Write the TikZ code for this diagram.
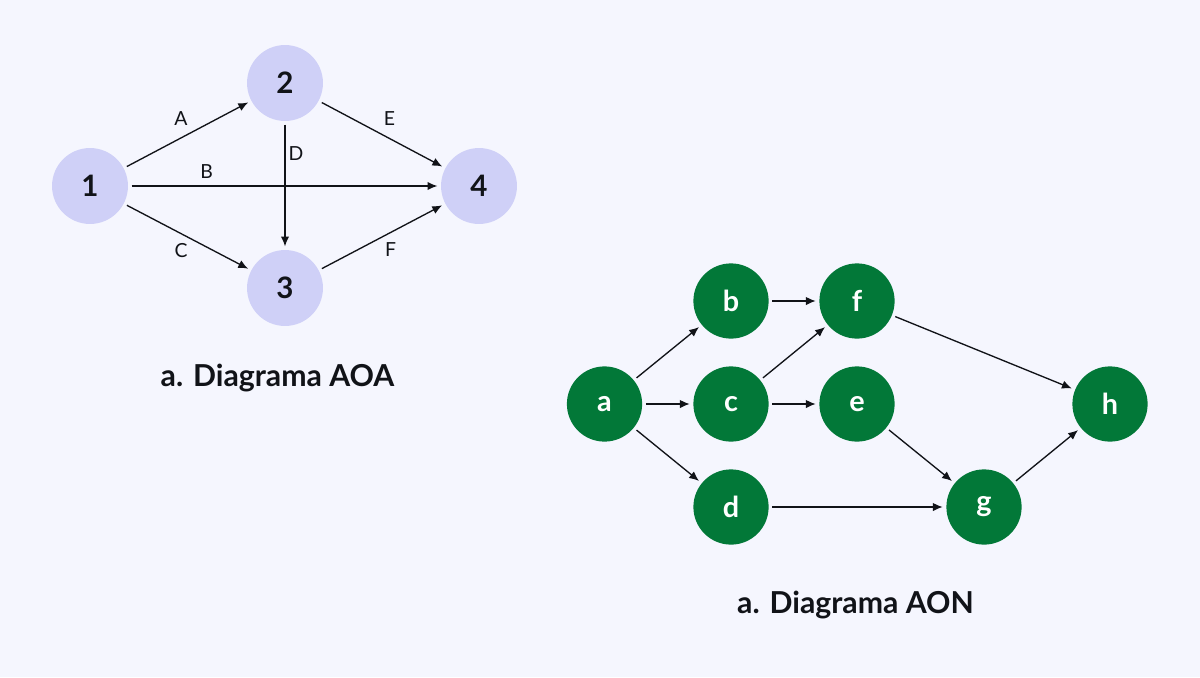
\documentclass[tikz,border=0pt]{standalone}
\usepackage{fontspec}
\setmainfont{Lato}
\usetikzlibrary{arrows.meta}
\definecolor{bg}{HTML}{F5F6FE}
\definecolor{lav}{HTML}{CFD0F7}
\definecolor{grn}{HTML}{027838}
\definecolor{ink}{HTML}{111318}
\begin{document}
\begin{tikzpicture}[x=0.025cm,y=-0.025cm,
  aoa/.style={circle,fill=lav,minimum size=54pt,inner sep=0pt,outer sep=2.6pt,
    font=\fontsize{21}{21}\selectfont\bfseries,text=ink},
  aon/.style={circle,fill=grn,minimum size=53.5pt,inner sep=0pt,outer sep=2.6pt,
    font=\fontsize{20.5}{20.5}\selectfont\bfseries,text=white},
  arr/.style={draw=ink,line width=0.95pt,-{Latex[length=7pt,width=6pt]}},
  elab/.style={font=\fontsize{13.8}{13.8}\selectfont,text=ink,inner sep=0pt},
  ttl/.style={font=\fontsize{21.5}{21.5}\selectfont\bfseries,text=ink,anchor=base}]
\fill[bg] (0,0) rectangle (1200,677);
\useasboundingbox (0,0) rectangle (1200,677);

% AOA
\node[aoa] (n1) at (90,186) {1};
\node[aoa] (n2) at (285,83) {2};
\node[aoa] (n3) at (285,288) {3};
\node[aoa] (n4) at (479,186) {4};

\draw[arr] (n1) -- node[elab,pos=0.5,shift={(-6.5,-15.5)}] {A} (n2);
\draw[arr] (n1) -- node[elab,pos=0.245,shift={(0,-14)}] {B} (n4);
\draw[arr] (n1) -- node[elab,pos=0.5,shift={(-6.5,14)}] {C} (n3);
\draw[arr] (n2) -- node[elab,pos=0.24,shift={(11,0)}] {D} (n3);
\draw[arr] (n2) -- node[elab,pos=0.5,shift={(7.5,-15.5)}] {E} (n4);
\draw[arr] (n3) -- node[elab,pos=0.5,shift={(8.5,13)}] {F} (n4);

\node[ttl] (t1) at (277.5,386) {a. Diagrama AOA};

% AON
\node[aon] (a) at (604.5,404) {a};
\node[aon] (b) at (731,301) {b};
\node[aon] (c) at (731,404) {c};
\node[aon] (d) at (731,507) {d};
\node[aon] (e) at (857,404) {e};
\node[aon] (f) at (857,301) {f};
\node[aon] (g) at (984,507) {g};
\node[aon] (h) at (1110,404) {h};

\draw[arr] (a) -- (b);
\draw[arr] (a) -- (c);
\draw[arr] (a) -- (d);
\draw[arr] (b) -- (f);
\draw[arr] (c) -- (f);
\draw[arr] (c) -- (e);
\draw[arr] (e) -- (g);
\draw[arr] (d) -- (g);
\draw[arr] (f) -- (h);
\draw[arr] (g) -- (h);

\node[ttl] (t2) at (855.5,613) {a. Diagrama AON};
\end{tikzpicture}
\end{document}
